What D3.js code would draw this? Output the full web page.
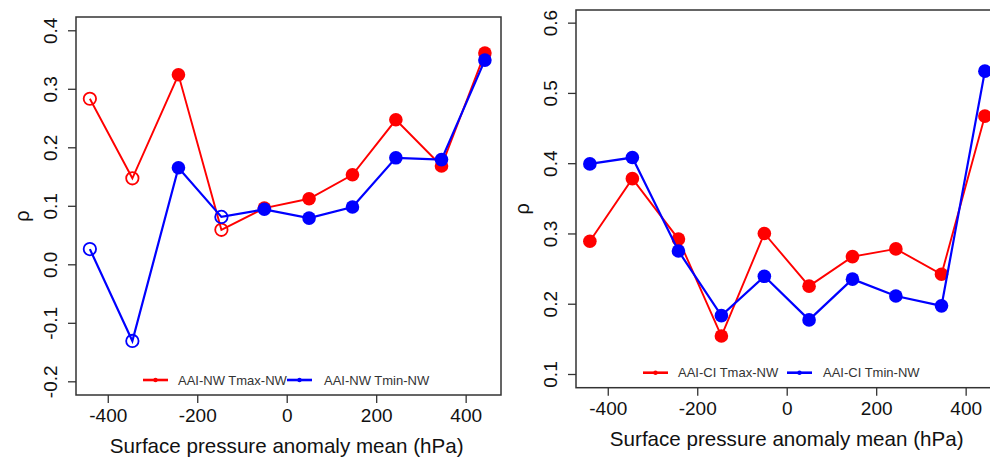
<!DOCTYPE html>
<html>
<head>
<meta charset="utf-8">
<script src="https://cdn.jsdelivr.net/npm/d3@7"></script>
<style>
  html, body { margin: 0; padding: 0; background: #fff; }
  svg { display: block; font-family: "Liberation Sans", Arial, sans-serif; }
</style>
</head>
<body>
<svg id="chart" width="990" height="460"></svg>
<script>
// ---- data ----
const pressureBins = [-440, -345, -242, -146, -50, 50, 147, 244, 346, 443];
const xTicks = [-400, -200, 0, 200, 400];

const nwTmax = [0.283, 0.147, 0.324, 0.059, 0.096, 0.112, 0.153, 0.247, 0.168, 0.361];
const nwTmin = [0.026, -0.131, 0.165, 0.081, 0.094, 0.079, 0.098, 0.182, 0.179, 0.349];
const nwTmaxOpen = [true, true, false, true, false, false, false, false, false, false];
const nwTminOpen = [true, true, false, true, false, false, false, false, false, false];
const nwYTicks = [-0.2, -0.1, 0.0, 0.1, 0.2, 0.3, 0.4];

const ciTmax = [0.289, 0.378, 0.292, 0.154, 0.300, 0.225, 0.267, 0.278, 0.242, 0.467];
const ciTmin = [0.399, 0.408, 0.275, 0.183, 0.239, 0.177, 0.235, 0.211, 0.197, 0.531];
const ciTmaxOpen = [false, false, false, false, false, false, false, false, false, false];
const ciTminOpen = [false, false, false, false, false, false, false, false, false, false];
const ciYTicks = [0.1, 0.2, 0.3, 0.4, 0.5, 0.6];

const legendNW = ["AAI-NW Tmax-NW", "AAI-NW Tmin-NW"];
const legendCI = ["AAI-CI Tmax-NW", "AAI-CI Tmin-NW"];
const xTitle = "Surface pressure anomaly mean (hPa)";
const yTitle = "ρ";

const RED = "#ff0000", BLUE = "#0000ff", FRAME = "#333333";

const svg = d3.select("#chart");

function panel(cfg) {
  const g = svg.append("g");
  const x = d3.scaleLinear().domain([-471, 479]).range([cfg.left, cfg.left + 425]);
  const y = d3.scaleLinear().domain(cfg.ydom).range([cfg.bottom, cfg.top]);

  // frame
  g.append("rect")
    .attr("x", cfg.left).attr("y", cfg.top)
    .attr("width", 425).attr("height", cfg.bottom - cfg.top)
    .attr("fill", "none").attr("stroke", FRAME).attr("stroke-width", 1.5);

  // x axis
  const xa = g.append("g").attr("transform", `translate(0,${cfg.bottom})`)
    .call(d3.axisBottom(x).tickValues(xTicks).tickSize(8).tickPadding(6).tickFormat(d3.format("d")));
  xa.select(".domain").remove();
  xa.selectAll("line").attr("stroke", FRAME).attr("stroke-width", 1.3);
  xa.selectAll("text").attr("font-size", 19).attr("fill", "#111")
    .text(d => d < 0 ? "-" + Math.abs(d) : d);

  // y axis
  const ya = g.append("g").attr("transform", `translate(${cfg.left},0)`)
    .call(d3.axisLeft(y).tickValues(cfg.yticks).tickSize(8).tickFormat(d3.format(".1f")));
  ya.select(".domain").remove();
  ya.selectAll("line").attr("stroke", FRAME).attr("stroke-width", 1.3);
  ya.selectAll("text").remove();
  ya.selectAll(".tick").append("text")
    .attr("transform", `translate(${-26},0) rotate(-90)`)
    .attr("text-anchor", "middle").attr("dy", "0.35em")
    .attr("font-size", 19).attr("fill", "#111")
    .text(d => d3.format(".1f")(d).replace("−", "-"));

  // titles
  g.append("text")
    .attr("x", x(0)).attr("y", cfg.bottom + 58)
    .attr("text-anchor", "middle").attr("font-size", 20.6).attr("fill", "#111")
    .text(xTitle);
  g.append("text")
    .attr("transform", `translate(${cfg.left - 54},${(cfg.top + cfg.bottom) / 2 + 10}) rotate(-90)`)
    .attr("text-anchor", "middle").attr("dy", "0.35em")
    .attr("font-size", 20).attr("fill", "#111")
    .text(yTitle);

  const series = [
    { vals: cfg.s1, open: cfg.o1, color: RED, w: 1.9 },
    { vals: cfg.s2, open: cfg.o2, color: BLUE, w: 2.2 }
  ];
  const line = d3.line().x((d, i) => x(pressureBins[i])).y(d => y(d));
  series.forEach(s => {
    g.append("path").datum(s.vals)
      .attr("d", line).attr("fill", "none")
      .attr("stroke", s.color).attr("stroke-width", s.w);
    g.selectAll(null).data(s.vals).enter().append("circle")
      .attr("cx", (d, i) => x(pressureBins[i]))
      .attr("cy", d => y(d))
      .attr("r", (d, i) => s.open[i] ? 6.2 : 6.8)
      .attr("fill", (d, i) => s.open[i] ? "none" : s.color)
      .attr("stroke", s.color)
      .attr("stroke-width", (d, i) => s.open[i] ? 1.8 : 0);
  });

  // legend
  const ly = cfg.bottom - 15;
  const lg = g.append("g");
  const items = [
    { x0: cfg.left + 67, tx: cfg.left + 102, color: RED, label: cfg.legend[0] },
    { x0: cfg.left + 211, tx: cfg.left + cfg.legend2x, color: BLUE, label: cfg.legend[1] }
  ];
  items.forEach(it => {
    lg.append("line").attr("x1", it.x0).attr("x2", it.x0 + 25)
      .attr("y1", ly).attr("y2", ly)
      .attr("stroke", it.color).attr("stroke-width", 2.6);
    lg.append("circle").attr("cx", it.x0 + 12.5).attr("cy", ly).attr("r", 2.2)
      .attr("fill", it.color);
    lg.append("text").attr("x", it.tx).attr("y", ly).attr("dy", "0.35em")
      .attr("font-size", 13).attr("fill", "#333").text(it.label);
  });
}

panel({ left: 76, top: 17, bottom: 395, ydom: [-0.2234, 0.4227], yticks: nwYTicks,
        s1: nwTmax, s2: nwTmin, o1: nwTmaxOpen, o2: nwTminOpen, legend: legendNW, legend2x: 248 });
panel({ left: 576, top: 10, bottom: 387.7, ydom: [0.0805, 0.618], yticks: ciYTicks,
        s1: ciTmax, s2: ciTmin, o1: ciTmaxOpen, o2: ciTminOpen, legend: legendCI, legend2x: 247 });
</script>
</body>
</html>
